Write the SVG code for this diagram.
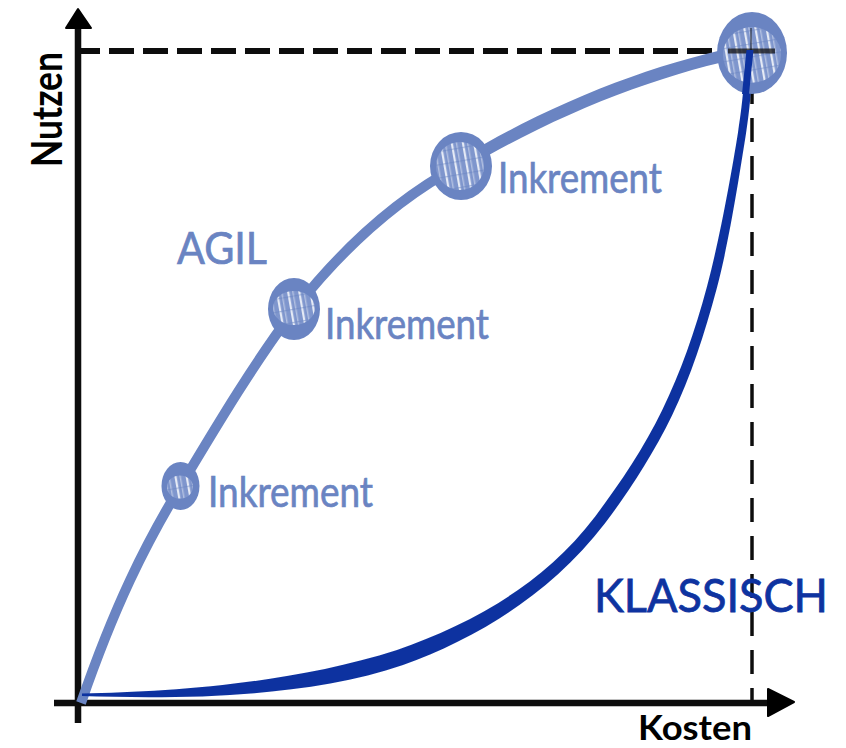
<svg xmlns="http://www.w3.org/2000/svg" width="846" height="748" viewBox="0 0 846 748">
<style>
text{font-family:"Lato","Noto Sans",sans-serif}
.axis{fill:none;stroke:#0a0a0a;stroke-width:6.5}
.head{fill:#000;stroke:#000;stroke-width:2;stroke-linejoin:round}
.dash{fill:none;stroke:#111}
.agile{fill:#6a84c2}
.inc{font-size:42px;fill:#6a84c2;stroke:#6a84c2;stroke-width:.7}
.blk{font-weight:700;fill:#000}
.soft{filter:url(#soft)}
</style>
<defs>
<filter id="soft" x="-5%" y="-5%" width="110%" height="110%"><feGaussianBlur stdDeviation=".6"/></filter>
<pattern id="h" width="11" height="13" patternUnits="userSpaceOnUse" patternTransform="rotate(-10)"><rect width="11" height="13" fill="#7f96cd"/><rect x="1" width="2.2" height="13" fill="#fff" fill-opacity=".8"/><rect x="6" width="1.400" height="13" fill="#fff" fill-opacity=".4"/><rect y="4" width="11" height="1.200" fill="#6a84c2" fill-opacity=".5"/></pattern>
</defs>
<rect width="846" height="748" fill="#fff"/>
<g id="connectors" class="soft">
<path id="axis-y" class="axis" d="M78 28V723"/>
<path id="axis-x" class="axis" d="M54 703H772"/>
<path class="head" d="M78 9L66 28H91Z"/>
<path class="head" d="M768 689L794 702L768 716Z"/>
<path class="dash" stroke-width="6" stroke-dasharray="25 9" d="M80 51H775" stroke-dashoffset="5"/>
<path class="dash" stroke-width="3.500" stroke-dasharray="24 14" d="M752 80V702"/>
<path id="agil-curve" fill="none" stroke="#6a84c2" stroke-width="10" d="M81 703C115 605 145 545 180 487C220 420 255 362 294 310C345 245 400 197 460 165"/>
<path id="agil-curve-end" class="agile" d="M457 160C556 100 658 62 750 44L750 56C662 74 564 110 463 170Z"/>
<path id="klassisch-curve" fill="#0e33a0" d="M82 693.500C170 692 290 684 397 650C467 625 540.200 588.400 595.200 516.400C617.500 486.900 643.300 449.400 662 410.600C680.700 371.800 694.700 332.400 707.200 285.700C719.700 239 731.700 171.900 738 132.400C744.300 92.900 743.800 77.700 746.500 50L753.500 50C750.800 77.700 752.300 94.100 746 133.600C739.700 173.100 729.300 241.600 716.800 288.300C704.300 335 690.700 376.600 672 415.400C653.300 454.200 627.100 494.100 604.800 523.600C549.800 595.600 473 640 403 665C305 699 170 699 82 696Z"/>
</g>
<g id="inc1" class="soft"><ellipse cx="180.500" cy="486" rx="19" ry="24" class="agile"/><ellipse cx="180" cy="487" rx="13" ry="11.500" fill="url(#h)"/></g>
<g id="inc2" class="soft"><ellipse cx="294" cy="309" rx="26" ry="31" class="agile"/><ellipse cx="294" cy="308" rx="21" ry="17" fill="url(#h)"/></g>
<g id="inc3" class="soft"><ellipse cx="461" cy="166" rx="31" ry="34" class="agile"/><ellipse cx="460" cy="166" rx="24" ry="24" fill="url(#h)"/></g>
<g id="inc4" class="soft"><ellipse cx="752" cy="53" rx="35" ry="41" class="agile"/><ellipse cx="752" cy="55" rx="29" ry="28" fill="url(#h)"/><path class="dash" stroke-width="5" stroke-opacity=".75" d="M728 51H775"/><path class="dash" stroke-width="1.500" stroke-opacity=".6" d="M751 28V50"/><path d="M746.500 50H753.500L749 94H742Z" fill="#0e33a0"/></g>
<g id="labels">
<text class="inc" x="498" y="193" textLength="164" lengthAdjust="spacingAndGlyphs">Inkrement</text>
<text class="inc" x="325" y="339" textLength="164" lengthAdjust="spacingAndGlyphs">Inkrement</text>
<text class="inc" x="208" y="507" textLength="165" lengthAdjust="spacingAndGlyphs">Inkrement</text>
<text x="177" y="264" font-size="44" fill="#6a84c2" stroke="#6a84c2" stroke-width=".7" textLength="90" lengthAdjust="spacingAndGlyphs">AGIL</text>
<text x="594" y="612" font-size="46" fill="#0e33a0" stroke="#0e33a0" stroke-width=".8" textLength="234" lengthAdjust="spacingAndGlyphs">KLASSISCH</text>
<text class="blk" x="638" y="740" font-size="34" textLength="114" lengthAdjust="spacingAndGlyphs">Kosten</text>
<text class="blk" font-size="42" transform="translate(62 167) rotate(-90)" textLength="115" lengthAdjust="spacingAndGlyphs">Nutzen</text>
</g>
</svg>
